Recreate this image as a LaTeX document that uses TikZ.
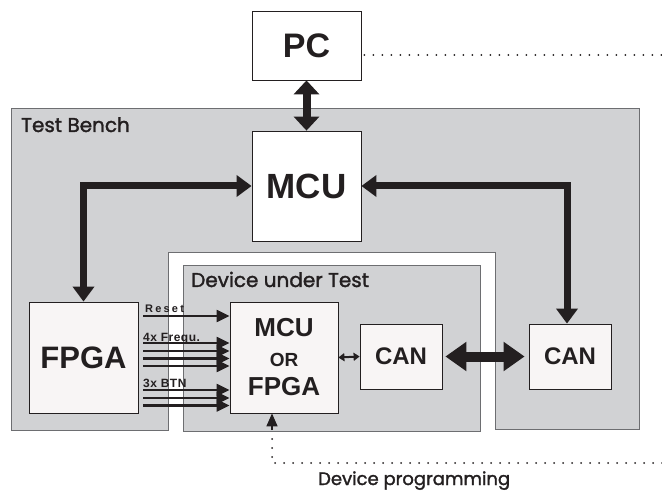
\documentclass[tikz,border=0pt]{standalone}
\usepackage{fontspec}
\setmainfont{Liberation Sans}
\newfontfamily\gothic{Poppins}[FakeBold=1.6]
\newfontfamily\sigspaced{Liberation Sans}[LetterSpace=20]
\newfontfamily\sigfont{Liberation Sans}[LetterSpace=4]
\usetikzlibrary{arrows.meta}
\definecolor{tbgray}{HTML}{D1D2D4}
\definecolor{tbline}{HTML}{6D6E71}
\definecolor{ink}{HTML}{231F20}
\definecolor{boxfill}{HTML}{F8F5F5}
\begin{document}
\begin{tikzpicture}[x=1pt,y=-1pt,
  box/.style={draw=ink, line width=0.8pt, fill=boxfill, inner sep=0pt, text=ink, font=\bfseries},
  wbox/.style={box, fill=white},
  bigarrow/.style={draw=ink, line width=7pt, {Triangle[length=15pt,width=21pt]}-{Triangle[length=15pt,width=21pt]}},
  pcarrow/.style={draw=ink, line width=8pt, {Triangle[length=14pt,width=25pt]}-{Triangle[length=14pt,width=25pt]}},
  canarrow/.style={draw=ink, line width=10pt, {Triangle[length=21pt,width=28pt]}-{Triangle[length=21pt,width=28pt]}},
  smallarrow/.style={draw=ink, line width=2pt, {Triangle[length=6pt,width=8pt]}-{Triangle[length=6pt,width=8pt]}},
  sig/.style={draw=ink, line width=2.2pt, -{Triangle[length=13pt,width=12pt]}},
  dots/.style={draw=ink, line width=2pt, line cap=round, dash pattern=on 0pt off 9pt},
  siglabel/.style={anchor=base west, inner sep=0pt, text=ink},
  areatitle/.style={anchor=base west, inner sep=0pt, text=ink, font=\gothic}
]
\useasboundingbox (0,0) rectangle (662,492);
\fill[white] (0,0) rectangle (662,492);

% Test bench area (U-shaped)
\draw[fill=tbgray, draw=tbline, line width=1pt]
  (11,109) -- (639,109) -- (639,429) -- (495,429) -- (495,252) -- (168,252) -- (168,430) -- (11,430) -- cycle;
% Device under test area
\draw[fill=tbgray, draw=tbline, line width=1pt] (183,265) rectangle (480,431);

\node[areatitle, font=\gothic\fontsize{20}{20}\selectfont] (tbtitle) at (21,132) {Test Bench};
\node[areatitle, font=\gothic\fontsize{20}{20}\selectfont] (duttitle) at (191,287) {Device under Test};

% Boxes
\node[wbox, minimum width=109pt, minimum height=69pt, font=\bfseries\fontsize{34}{34}\selectfont] (pc) at (306.5,45.5) {PC};
\node[wbox, minimum width=109pt, minimum height=110pt, font=\bfseries\fontsize{35}{35}\selectfont] (mcu) at (306.5,186) {MCU};
\node[box, minimum width=109pt, minimum height=111pt, font=\bfseries\fontsize{31}{31}\selectfont] (fpga) at (83.5,357.5) {FPGA};
\node[box, minimum width=108pt, minimum height=111pt, align=center, font=\bfseries\fontsize{26}{29.5}\selectfont] (dut) at (284,357.5)
  {MCU\\{\fontsize{19}{29.5}\selectfont OR}\\FPGA};
\node[box, minimum width=82pt, minimum height=65pt, font=\bfseries\fontsize{24}{24}\selectfont] (can1) at (401,356.5) {CAN};
\node[box, minimum width=82pt, minimum height=65pt, font=\bfseries\fontsize{24}{24}\selectfont] (can2) at (570,356.5) {CAN};

% Main connectors
\draw[pcarrow] (pc.south) -- (mcu.north);
\draw[bigarrow] (fpga.north) |- (mcu.west);
\draw[bigarrow] (mcu.east) -| ([xshift=-3pt]can2.north);
\draw[canarrow, shorten <=3pt, shorten >=4pt] (can1.east) -- (can2.west);
\draw[smallarrow] (dut.east) -- (can1.west);

% Signal lines FPGA -> DUT
\coordinate (r0) at (143,316);
\coordinate (f1) at (143,343);
\coordinate (f2) at (143,351);
\coordinate (f3) at (143,358.5);
\coordinate (f4) at (143,366);
\coordinate (b1) at (143,390);
\coordinate (b2) at (143,398);
\coordinate (b3) at (143,405.5);
\foreach \c in {r0,f1,f2,f3,f4,b1,b2,b3} {
  \draw[sig] (\c) -- (\c -| dut.west);
}
\node[siglabel, font=\sigspaced\bfseries\fontsize{11}{11}\selectfont] (lreset) at (145,312) {Reset};
\node[siglabel, font=\sigfont\bfseries\fontsize{12}{12}\selectfont] (lfreq) at (143,341) {4x Frequ.};
\node[siglabel, font=\sigfont\bfseries\fontsize{12}{12}\selectfont] (lbtn) at (143,387) {3x BTN};

% Dotted lines
\coordinate (pcdotend) at (662,55);
\draw[dots] (pc.east |- pcdotend) ++(3pt,0) -- (pcdotend);
\coordinate (progcorner) at (272,463);
\coordinate (progend) at (662,463);
\draw[dots] (progend) -- (progcorner) -- (272,432);
\draw[draw=ink, line width=1.5pt, -{Triangle[length=13pt,width=11pt]}] (272,430) -- (progcorner |- dut.south);
\node[anchor=base west, inner sep=0pt, text=ink, font=\gothic\fontsize{18}{18}\selectfont] (proglabel) at (318,485) {Device programming};
\end{tikzpicture}
\end{document}
